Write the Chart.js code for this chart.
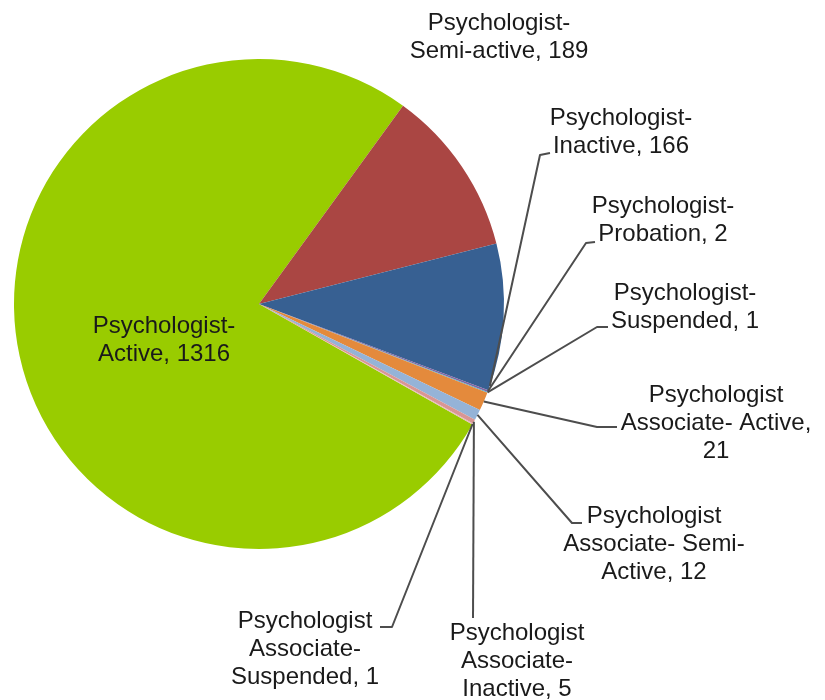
<!DOCTYPE html>
<html>
<head>
<meta charset="utf-8">
<script src="https://cdn.jsdelivr.net/npm/chart.js@4"></script>
<style>
body{margin:0;background:#fff;}
#wrap{width:825px;height:700px;}
</style>
</head>
<body>
<div id="wrap"><canvas id="pieChart" width="825" height="700"></canvas></div>
<script>

let categories = [
"Psychologist-Active",
"Psychologist-Semi-active",
"Psychologist-Inactive",
"Psychologist-Probation",
"Psychologist-Suspended",
"Psychologist Associate- Active",
"Psychologist Associate- Semi-Active",
"Psychologist Associate-Inactive",
"Psychologist Associate-Suspended"
]

let counts = [1316,189,166,2,1,21,12,5,1]

let sliceColors = ["#99CC00","#AA4643","#376092","#8064A2","#4BACC6","#E48A3C","#95B3D7","#D99694","#E6B9B8"]

// label text lines (value appended from counts)
let labelLines = [
["Psychologist-","Active, "],
["Psychologist-","Semi-active, "],
["Psychologist-","Inactive, "],
["Psychologist-","Probation, "],
["Psychologist-","Suspended, "],
["Psychologist","Associate- Active,",""],
["Psychologist","Associate- Semi-","Active, "],
["Psychologist","Associate-","Inactive, "],
["Psychologist","Associate-","Suspended, "]
]

// layout: label centre x, first baseline y, leader elbow + end, anchor fraction along slice
let labelLayout = [
{x:164,y:333,line:null},
{x:499,y:30,line:null},
{x:621,y:125,line:[540,155,550,153],frac:0.97},
{x:663,y:213,line:[586,243,595,242],frac:0.5},
{x:685,y:300,line:[597,327,608,327],frac:0.5},
{x:716,y:402,line:[597,427,617,427],frac:0.5},
{x:654,y:523,line:[572,523,582,523],frac:0.5},
{x:517,y:640,line:[473,618,473,618],frac:0.5},
{x:305,y:628,line:[392,627,380,627],frac:0.5}
]

let total = counts.reduce((a,b)=>a+b,0)
let redStart = 36
let startAngle = redStart - 360*counts[0]/total


let labelPlugin = {

id:"pieLabels",

afterDatasetsDraw(chart){

let ctx = chart.ctx
let meta = chart.getDatasetMeta(0)

ctx.save()

ctx.strokeStyle = "#4d4d4d"
ctx.lineWidth = 2
ctx.lineJoin = "round"

labelLayout.forEach((lay,i)=>{

if(!lay.line) return

let arc = meta.data[i]
let a = arc.startAngle + lay.frac*(arc.endAngle-arc.startAngle)
let ax = arc.x + Math.cos(a)*arc.outerRadius
let ay = arc.y + Math.sin(a)*arc.outerRadius

ctx.beginPath()
ctx.moveTo(ax,ay)
ctx.lineTo(lay.line[0],lay.line[1])
ctx.lineTo(lay.line[2],lay.line[3])
ctx.stroke()

})

ctx.fillStyle = "#1a1a1a"
ctx.font = "24px 'Liberation Sans', Arial, sans-serif"
ctx.textAlign = "center"
ctx.textBaseline = "alphabetic"

labelLayout.forEach((lay,i)=>{

let lines = labelLines[i].slice()
lines[lines.length-1] = lines[lines.length-1] + counts[i]

lines.forEach((t,k)=>{
ctx.fillText(t,lay.x,lay.y+k*28)
})

})

ctx.restore()

}

}


new Chart(document.getElementById("pieChart"),{

type:"pie",

data:{

labels:categories,

datasets:[{

data:counts,

backgroundColor:sliceColors,

borderWidth:0

}]

},

options:{

responsive:false,
animation:false,
rotation:startAngle,

layout:{
padding:{left:14,top:59,right:321,bottom:151}
},

plugins:{
legend:{display:false},
tooltip:{enabled:false}
}

},

plugins:[labelPlugin]

})

</script>
</body>
</html>
